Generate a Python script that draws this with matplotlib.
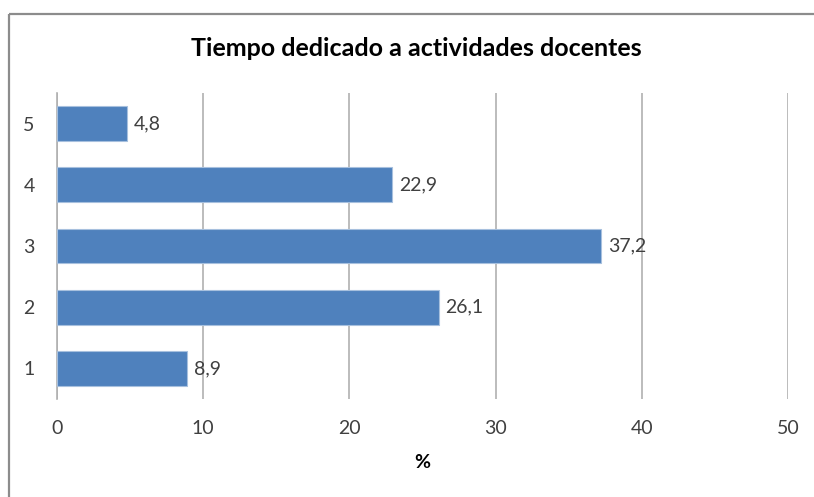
import matplotlib.pyplot as plt
from matplotlib.lines import Line2D

categorias = ["1", "2", "3", "4", "5"]
valores = [8.9, 26.1, 37.2, 22.9, 4.8]
etiquetas = ["8,9", "26,1", "37,2", "22,9", "4,8"]
ticks_x = [0, 10, 20, 30, 40, 50]

plt.rcParams["font.family"] = ["Lato", "DejaVu Sans"]

fig = plt.figure(figsize=(8.14, 4.97), dpi=100)
ax = fig.add_axes([0.070, 0.197, 0.898, 0.616])

# borde del grafico (solo arriba e izquierda se ven)
fig.lines.append(Line2D([9, 9], [-10, 483], transform=None,
                        color="#8c8c8c", linewidth=1.6, solid_capstyle="butt"))
fig.lines.append(Line2D([9, 830], [483, 483], transform=None,
                        color="#8c8c8c", linewidth=1.6, solid_capstyle="butt"))

pos = range(len(categorias))
ax.barh(pos, valores, height=0.57, color="#4f81bd", edgecolor="#a7c0de",
        linewidth=0.8, zorder=3)
for p, v, t in zip(pos, valores, etiquetas):
    ax.annotate(t, (v, p), xytext=(5, 0), textcoords="offset points",
                va="center", ha="left", fontsize=14, color="#404040")

ax.set_xlim(0, 50)
ax.set_ylim(-0.5, 4.5)
ax.set_xticks(ticks_x)
ax.set_yticks(list(pos))
ax.set_yticklabels(categorias)
ax.grid(axis="x", color="#b0b0b0", linewidth=1.2, zorder=0)
ax.tick_params(length=0, labelsize=14, labelcolor="#404040")
ax.tick_params(axis="y", pad=16)
ax.tick_params(axis="x", pad=15)
for s in ["top", "right", "bottom"]:
    ax.spines[s].set_visible(False)
ax.spines["left"].set_color("#b0b0b0")
ax.spines["left"].set_linewidth(1.2)

ax.set_xlabel("%", fontsize=14, fontweight="bold", labelpad=12)
fig.text(0.511, 0.903, "Tiempo dedicado a actividades docentes", ha="center",
         va="center", fontsize=18, fontweight="bold", color="black")

plt.savefig("out.png", dpi=100)
